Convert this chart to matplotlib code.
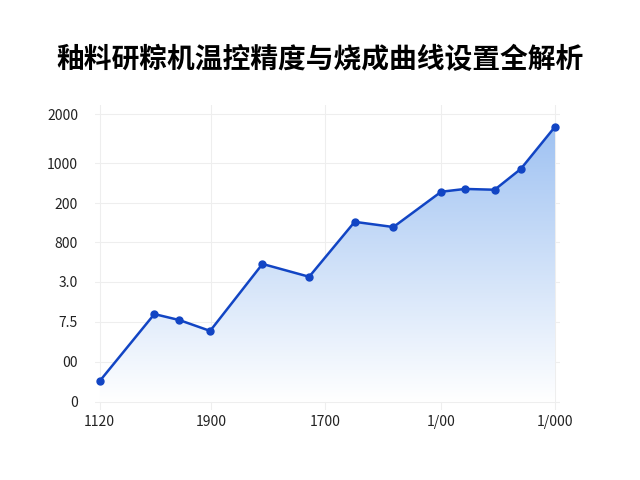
import matplotlib.pyplot as plt
import numpy as np
from matplotlib.patches import Polygon

plt.rcParams['font.family'] = ['Noto Sans CJK SC', 'DejaVu Sans']

x = [0, 0.48, 0.70, 0.97, 1.43, 1.84, 2.24, 2.58, 3.00, 3.21, 3.47, 3.70, 4.00]
y = [0.52, 2.19, 2.04, 1.77, 3.44, 3.12, 4.49, 4.36, 5.24, 5.31, 5.29, 5.81, 6.86]
xticks = [0, 0.98, 1.98, 3.0, 4.0]
xlabels = ["1120", "1900", "1700", "1/00", "1/000"]
yticks = [0, 1, 2, 3, 3.98, 4.95, 5.95, 7.17]
ylabels = ["0", "00", "7.5", "3.0", "800", "200", "1000", "2000"]

fig = plt.figure(figsize=(6.4, 4.8), dpi=100)
ax = fig.add_axes([0.148, 0.146, 0.727, 0.635])
ax.set_xlim(-0.044, 4.044)
ax.set_ylim(-0.2, 7.4)

# gradient fill under the line
grad = np.linspace(0, 1, 256).reshape(-1, 1)
cmap = plt.matplotlib.colors.LinearSegmentedColormap.from_list("g", ["#ffffff", "#9fc2f2"])
im = ax.imshow(grad, extent=[x[0], x[-1], 0, max(y)], origin="lower", aspect="auto",
               cmap=cmap, zorder=1)
poly = Polygon(list(zip(x, y)) + [(x[-1], 0), (x[0], 0)], closed=True,
               transform=ax.transData, facecolor="none", edgecolor="none")
ax.add_patch(poly)
im.set_clip_path(poly)

ax.plot(x, y, color="#1245c4", lw=1.8, marker="o", ms=5, zorder=3)

ax.set_xticks(xticks, xlabels)
ax.set_yticks(yticks, ylabels)
ax.grid(color="#eeeeee", lw=0.8)
ax.set_axisbelow(True)
for s in ax.spines.values():
    s.set_visible(False)
ax.tick_params(axis="x", length=0, labelsize=10, colors="#222222", pad=4)
ax.tick_params(axis="y", length=0, labelsize=10, colors="#222222", pad=12)

fig.text(0.5, 0.875, "釉料研粽机温控精度与烧成曲线设置全解析", ha="center",
         va="center", fontsize=20, fontweight="bold")
fig.savefig("out.png")
